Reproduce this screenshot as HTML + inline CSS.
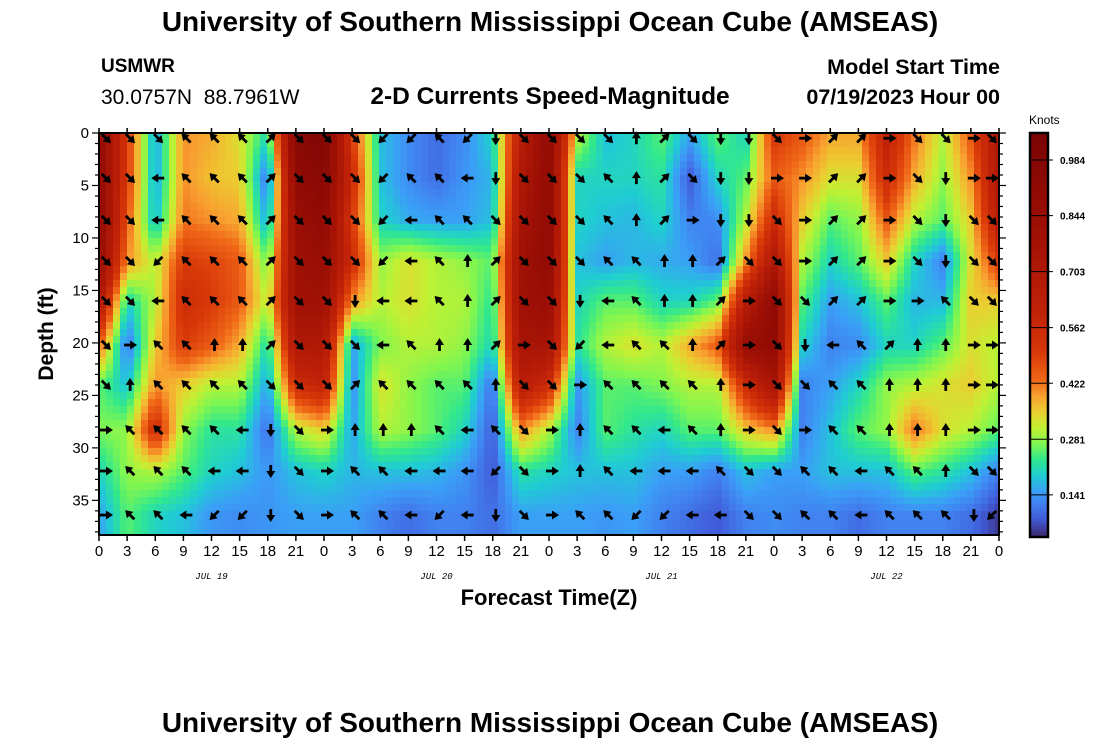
<!DOCTYPE html>
<html><head><meta charset="utf-8">
<style>
html,body{margin:0;padding:0;background:#fff;}
body{width:1100px;height:750px;overflow:hidden;position:relative;font-family:"Liberation Sans",sans-serif;}
.t{position:absolute;white-space:nowrap;color:#000;}
</style></head>
<body>
<div class="t" style="left:0;width:1100px;text-align:center;top:6px;font-size:28px;font-weight:bold;">University of Southern Mississippi Ocean Cube (AMSEAS)</div>
<div class="t" style="left:101px;top:56px;font-size:19px;font-weight:bold;">USMWR</div>
<div class="t" style="left:101px;top:86px;font-size:21px;">30.0757N&nbsp;&nbsp;88.7961W</div>
<div class="t" style="left:250px;width:600px;text-align:center;top:83px;font-size:24.5px;font-weight:bold;">2-D Currents Speed-Magnitude</div>
<div class="t" style="right:100px;top:55px;font-size:21.5px;font-weight:bold;text-align:right;">Model Start Time</div>
<div class="t" style="right:100px;top:85px;font-size:21.5px;font-weight:bold;text-align:right;">07/19/2023 Hour 00</div>
<div class="t" style="left:0;width:1100px;text-align:center;top:707px;font-size:28px;font-weight:bold;">University of Southern Mississippi Ocean Cube (AMSEAS)</div>

<svg id="chart" width="1100" height="750" style="position:absolute;left:0;top:0;" xmlns="http://www.w3.org/2000/svg">
<defs><clipPath id="pc"><rect x="99" y="133" width="900" height="402"/></clipPath></defs>
<g id="heat" clip-path="url(#pc)"></g>
<g id="arrows"></g>
<g id="axes"></g>
<g id="cbar"></g>
</svg>

<script>
// forecast hours (columns) and depths (rows, ft)
const hours = [0,3,6,9,12,15,18,21,24,27,30,33,36,39,42,45,48,51,54,57,60,63,66,69,72,75,78,81,84,87,90,93,96];
const depths = [0.5,4.3,8.3,12.2,16,20.2,24,28.3,32.2,36.4];
// speed (knots), one array per depth row
const speed0 = [0.9,0.5,0.15,0.4,0.38,0.33,0.2,0.95,1.0,0.5,0.18,0.13,0.1,0.13,0.2,0.65,0.9,0.3,0.18,0.2,0.25,0.15,0.25,0.2,0.5,0.45,0.38,0.38,0.6,0.42,0.3,0.45,0.7];
const speed1 = [0.9,0.5,0.15,0.4,0.36,0.35,0.1,0.9,0.95,0.55,0.18,0.13,0.1,0.14,0.17,0.7,0.9,0.2,0.2,0.2,0.22,0.08,0.2,0.25,0.45,0.4,0.33,0.33,0.55,0.38,0.28,0.4,0.7];
const speed2 = [0.9,0.45,0.17,0.42,0.4,0.38,0.15,0.85,0.9,0.5,0.2,0.16,0.15,0.15,0.18,0.75,0.9,0.2,0.18,0.17,0.2,0.12,0.13,0.3,0.55,0.35,0.25,0.28,0.45,0.3,0.25,0.35,0.65];
const speed3 = [0.85,0.4,0.3,0.5,0.48,0.45,0.25,0.8,0.85,0.55,0.28,0.33,0.3,0.28,0.25,0.8,0.9,0.18,0.15,0.17,0.16,0.15,0.1,0.4,0.7,0.3,0.2,0.25,0.35,0.2,0.12,0.33,0.5];
const speed4 = [0.7,0.2,0.3,0.55,0.5,0.45,0.3,0.8,0.8,0.4,0.3,0.33,0.3,0.3,0.22,0.8,0.85,0.2,0.25,0.25,0.2,0.2,0.25,0.65,0.9,0.25,0.15,0.18,0.25,0.17,0.17,0.35,0.35];
const speed5 = [0.45,0.1,0.35,0.5,0.45,0.38,0.2,0.7,0.7,0.15,0.27,0.3,0.3,0.28,0.2,0.75,0.75,0.22,0.3,0.33,0.3,0.38,0.45,0.85,0.9,0.2,0.12,0.13,0.2,0.2,0.25,0.33,0.3];
const speed6 = [0.25,0.18,0.4,0.35,0.3,0.3,0.15,0.55,0.6,0.13,0.33,0.28,0.25,0.25,0.1,0.65,0.55,0.14,0.25,0.25,0.27,0.3,0.3,0.55,0.75,0.12,0.15,0.2,0.28,0.3,0.33,0.35,0.3];
const speed7 = [0.27,0.28,0.55,0.28,0.22,0.22,0.1,0.3,0.35,0.15,0.3,0.28,0.25,0.2,0.08,0.4,0.3,0.12,0.25,0.22,0.2,0.25,0.25,0.35,0.4,0.12,0.18,0.25,0.28,0.42,0.33,0.3,0.25];
const speed8 = [0.2,0.28,0.3,0.25,0.2,0.18,0.14,0.18,0.2,0.17,0.18,0.18,0.17,0.14,0.08,0.22,0.2,0.18,0.18,0.18,0.15,0.15,0.12,0.18,0.15,0.15,0.18,0.18,0.18,0.25,0.22,0.18,0.12];
const speed9 = [0.15,0.25,0.2,0.18,0.14,0.13,0.14,0.15,0.15,0.15,0.12,0.1,0.12,0.12,0.1,0.15,0.15,0.15,0.14,0.15,0.12,0.1,0.08,0.12,0.13,0.12,0.12,0.1,0.12,0.12,0.12,0.1,0.05];
// arrow directions per depth row
const dir0 = ["SE","SE","SE","NW","NW","NW","NE","SE","SE","SE","SW","SW","NW","SW","S","SE","SE","SE","SE","N","NE","SE","S","S","SE","E","NE","NE","E","SE","SE","E","SE"];
const dir1 = ["SE","SE","W","NW","NW","NW","NE","SE","SE","SE","SW","NW","NW","W","S","SE","SE","SE","NW","N","NE","SE","S","S","E","E","NE","NE","E","SE","S","E","E"];
const dir2 = ["SE","SE","W","NW","NW","NW","NE","SE","SE","SE","SW","W","NW","NW","SE","SE","SE","SE","NW","N","NE","E","S","S","SE","E","NE","NE","E","SE","S","SE","SE"];
const dir3 = ["SE","SE","SW","NW","NW","NW","NE","SE","SE","SE","SW","W","NW","N","NE","SE","SE","SE","NW","NW","N","N","NE","SE","SE","E","NE","NE","E","SE","S","SE","SE"];
const dir4 = ["SE","SE","W","NW","NW","NW","NE","SE","SE","S","W","W","NW","N","NE","SE","SE","S","W","NW","N","N","NE","E","SE","SE","NE","NE","E","E","NW","SE","SE"];
const dir5 = ["SE","E","NW","NW","N","N","NE","SE","SE","SE","W","NW","N","N","NE","E","SE","SW","W","NW","NW","N","NE","E","SE","S","W","NW","NE","N","N","E","E"];
const dir6 = ["SE","N","NW","NW","NW","NW","SE","SE","SE","NE","NW","NW","NW","NW","N","SE","SE","E","NW","NW","NW","NW","N","E","SE","SE","NW","NW","N","N","N","E","E"];
const dir7 = ["E","NW","NW","NW","NW","W","S","SE","E","N","N","N","NW","W","NW","SE","E","N","NW","NW","W","NW","N","E","SE","E","NW","NW","N","N","N","E","E"];
const dir8 = ["E","NW","NW","NW","W","W","S","SE","E","NW","NW","W","W","W","SW","SE","E","N","NW","W","W","W","NW","SE","SE","NW","NW","W","NW","NW","N","SE","SE"];
const dir9 = ["E","NW","NW","W","SW","SW","S","SE","E","NW","NW","W","SW","W","S","SE","E","NW","NW","SW","SW","W","W","SE","SE","NW","NW","W","NW","NW","NW","S","SW"];
const speeds = [speed0,speed1,speed2,speed3,speed4,speed5,speed6,speed7,speed8,speed9];
const dirs = [dir0,dir1,dir2,dir3,dir4,dir5,dir6,dir7,dir8,dir9];
const xTickLabels = ["0","3","6","9","12","15","18","21","0","3","6","9","12","15","18","21","0","3","6","9","12","15","18","21","0","3","6","9","12","15","18","21","0"];
const yTicks = [0,5,10,15,20,25,30,35];
const dayLabels = ["JUL 19","JUL 20","JUL 21","JUL 22"];
const dayHours = [12,36,60,84];
const cbarTicks = [0.141,0.281,0.422,0.562,0.703,0.844,0.984];

const NS="http://www.w3.org/2000/svg";
const X0=99,X1=999,Y0=133,Y1=535,HMAX=96,DMAX=38.3;
const xs=h=>X0+(X1-X0)*h/HMAX;
const ys=d=>Y0+(Y1-Y0)*d/DMAX;
const stops=[[0.0,[50,25,90]],[0.04,[60,45,120]],[0.08,[65,90,215]],[0.12,[65,130,240]],[0.15,[58,160,246]],[0.19,[31,205,210]],[0.23,[50,232,140]],[0.27,[128,246,80]],[0.31,[195,240,50]],[0.35,[235,205,48]],[0.39,[248,160,48]],[0.43,[240,104,24]],[0.5,[216,56,8]],[0.6,[192,34,8]],[0.8,[160,16,5]],[1.05,[122,4,3]]];
function cmap(v){
  if(v<=stops[0][0])return stops[0][1];
  for(let i=1;i<stops.length;i++){
    if(v<=stops[i][0]){const a=stops[i-1],b=stops[i];const t=(v-a[0])/(b[0]-a[0]);
      return a[1].map((c,k)=>Math.round(c+(b[1][k]-c)*t));}
  }
  return stops[stops.length-1][1];
}
function rgb(c){return "rgb("+c[0]+","+c[1]+","+c[2]+")";}
function mk(tag,attrs,parent){const e=document.createElementNS(NS,tag);for(const k in attrs)e.setAttribute(k,attrs[k]);parent.appendChild(e);return e;}

// heatmap: bilinear blend of grid values drawn as blocks
const heat=document.getElementById('heat');
function sample(h,d){
  let ci=0;while(ci<hours.length-2&&h>hours[ci+1])ci++;
  let ri=0;while(ri<depths.length-2&&d>depths[ri+1])ri++;
  let tx=(h-hours[ci])/(hours[ci+1]-hours[ci]);tx=Math.max(0,Math.min(1,tx));
  let ty=(d-depths[ri])/(depths[ri+1]-depths[ri]);ty=Math.max(0,Math.min(1,ty));
  const a=speeds[ri][ci],b=speeds[ri][ci+1],c=speeds[ri+1][ci],e=speeds[ri+1][ci+1];
  return (a*(1-tx)+b*tx)*(1-ty)+(c*(1-tx)+e*tx)*ty;
}
const BW=7,BH=7;
for(let py=Y0;py<Y1;py+=BH){
  for(let px=X0;px<X1;px+=BW){
    const h=((px+BW/2)-X0)/(X1-X0)*HMAX, d=((py+BH/2)-Y0)/(Y1-Y0)*DMAX;
    const r=mk('rect',{x:px,y:py,width:BW+0.5,height:BH+0.5,fill:rgb(cmap(sample(h,d)))},heat);
    
    
  }
}
// arrows
const ang={E:0,SE:45,S:90,SW:135,W:180,NW:225,N:270,NE:315};
const ag=document.getElementById('arrows');
for(let r=0;r<depths.length;r++){
  for(let c=0;c<hours.length;c++){
    let x=Math.max(106,Math.min(992,xs(hours[c])+3)), y=ys(depths[r]);
    if(r===0)y=Math.max(y,138);
    const g=mk('g',{transform:`translate(${x},${y}) rotate(${ang[dirs[r][c]]})`},ag);
    
    
    mk('line',{x1:-6,y1:0,x2:1,y2:0,stroke:'#000','stroke-width':2.8},g);
    mk('polygon',{points:'7,0 0,-4.5 0,4.5',fill:'#000'},g);
  }
}
// axes
const ax=document.getElementById('axes');
mk('rect',{x:X0,y:Y0,width:X1-X0,height:Y1-Y0,fill:'none',stroke:'#000','stroke-width':2},ax);
for(let i=0;i<hours.length;i++){
  const x=xs(hours[i]);
  mk('line',{x1:x,y1:Y1,x2:x,y2:Y1+6,stroke:'#000','stroke-width':1.5},ax);
  mk('line',{x1:x,y1:Y0,x2:x,y2:Y0-5,stroke:'#000','stroke-width':1.5},ax);
  const t=mk('text',{x:x,y:Y1+21,'text-anchor':'middle','font-size':15,'font-family':'Liberation Sans, sans-serif'},ax);
  t.textContent=xTickLabels[i];
  
  
}
for(let d=0;d<=38;d++){
  const y=ys(d),L=(d%5===0)?7:4;
  mk('line',{x1:X0-L,y1:y,x2:X0,y2:y,stroke:'#000','stroke-width':1.2},ax);
  mk('line',{x1:X1,y1:y,x2:X1+L,y2:y,stroke:'#000','stroke-width':1.2},ax);
}
for(const v of yTicks){
  const t=mk('text',{x:X0-10,y:ys(v)+5,'text-anchor':'end','font-size':15,'font-family':'Liberation Sans, sans-serif'},ax);
  t.textContent=v;
  
  
}
for(let i=0;i<dayLabels.length;i++){
  const t=mk('text',{x:xs(dayHours[i]),y:579,'text-anchor':'middle','font-size':9,'font-style':'italic','font-family':'Liberation Mono, monospace'},ax);
  t.textContent=dayLabels[i];
  
  
}
let tt=mk('text',{x:549,y:605,'text-anchor':'middle','font-size':22,'font-weight':'bold','font-family':'Liberation Sans, sans-serif'},ax);
tt.textContent='Forecast Time(Z)';


tt=mk('text',{x:0,y:0,transform:'translate(53,334) rotate(-90)','text-anchor':'middle','font-size':21,'font-weight':'bold','font-family':'Liberation Sans, sans-serif'},ax);
tt.textContent='Depth (ft)';



// colorbar
const cb=document.getElementById('cbar');
const CX=1030,CW=18,CY0=133,CY1=537,VMIN=0.035,VMAX=1.052;
const cys=v=>CY1-(CY1-CY0)*(v-VMIN)/(VMAX-VMIN);
for(let y=CY0;y<CY1;y+=2){
  const v=VMIN+(CY1-y-1)/(CY1-CY0)*(VMAX-VMIN);
  mk('rect',{x:CX,y:y,width:CW,height:2.5,fill:rgb(cmap(v))},cb);
}
mk('rect',{x:CX,y:CY0,width:CW,height:CY1-CY0,fill:'none',stroke:'#000','stroke-width':2.5},cb);
for(const v of cbarTicks){
  const y=cys(v);
  mk('line',{x1:CX,y1:y,x2:CX+CW+5,y2:y,stroke:'#000','stroke-width':1},cb);
  const t=mk('text',{x:CX+CW+12,y:y+4,'font-size':10,'font-weight':'bold','font-family':'Liberation Sans, sans-serif'},cb);
  t.textContent=v.toFixed(3);
  
  
}
tt=mk('text',{x:1029,y:124,'font-size':12,'font-family':'Liberation Sans, sans-serif'},cb);
tt.textContent='Knots';


</script>
</body></html>
